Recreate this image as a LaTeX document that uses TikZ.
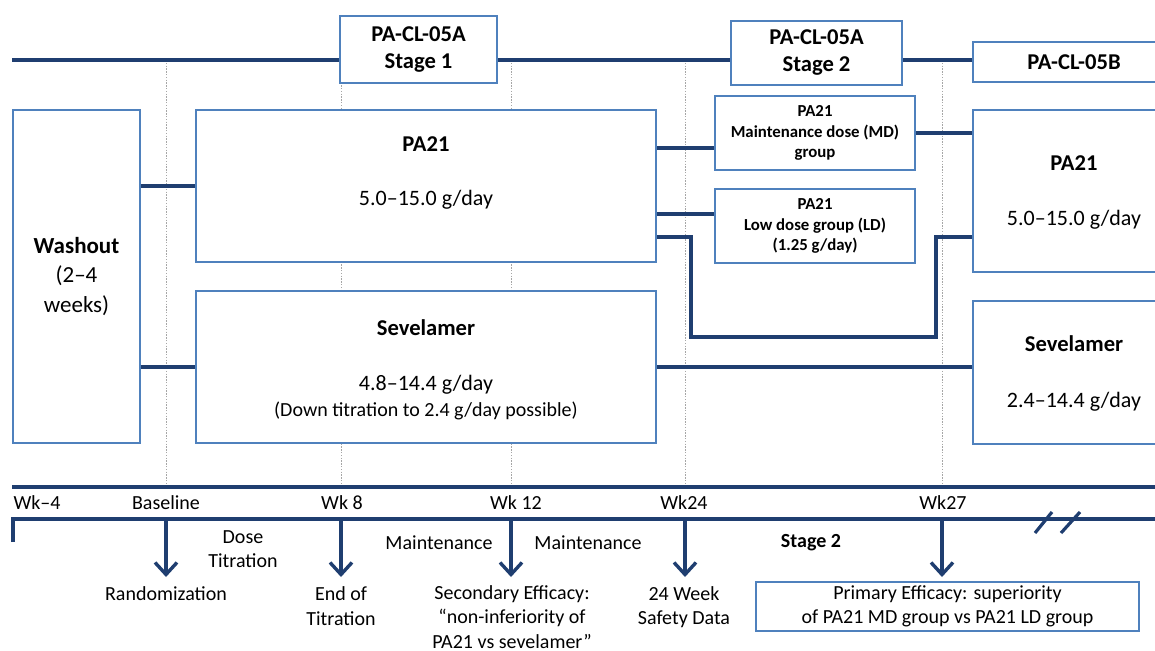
\documentclass[tikz,border=0pt]{standalone}
\usepackage{fontspec}
\setmainfont{Carlito}
\usetikzlibrary{arrows.meta,positioning,calc,fit}
\definecolor{boxblue}{RGB}{79,129,189}
\definecolor{navy}{RGB}{31,62,112}

\begin{document}
\begin{tikzpicture}[x=0.5pt,y=-0.5pt,
    box/.style={draw=boxblue, line width=1.4pt, fill=white, inner sep=0pt},
    link/.style={navy, line width=2pt},
    wkline/.style={gray!70, line width=0.5pt, dash pattern=on 0.7pt off 0.7pt},
    hdr/.style={font=\bfseries\fontsize{11.3}{13.5}\selectfont, align=center},
    dosetxt/.style={font=\fontsize{11}{13}\selectfont},
    grptxt/.style={font=\bfseries\fontsize{8.4}{10.3}\selectfont, align=center},
    lbl/.style={font=\fontsize{10}{12.3}\selectfont, align=center},
    down/.style={navy, line width=1.7pt, -{Straight Barb[length=6pt,width=11pt]}}]
    \useasboundingbox (0,0) rectangle (1155,651);
    \clip (0,0) rectangle (1155,651);

    % Week lines behind the boxes
    \foreach \x in {166,341,511,685,942}
        \draw[wkline] (\x,60) -- (\x,487);

    % Study stages
    \draw[link] (12,60) -- (1155,60);
    \node[box, fit={(340,16) (497,83)}] (stA) {};
    \node[hdr] (stAT) at (stA.center) {PA-CL-05A\\Stage 1};
    \node[box, fit={(731,21) (902,85)}] (stB) {};
    \node[hdr] (stBT) at (stB.center) {PA-CL-05A\\Stage 2};
    \node[box, fit={(973,42) (1175,82)}] (stC) {};
    \node[hdr] (stCT) at (stC.center) {PA-CL-05B};

    % Washout and randomised arms
    \node[box, fit={(13,110) (140,443)}] (wash) {};
    \node[font={\fontsize{11.5}{14.7}\selectfont}, align=center] (washT) at (wash.center) {\textbf{Washout}\\(2–4\\weeks)};
    \node[box, fit={(196,110) (656,262)}] (pa) {};
    \node[hdr] (paT) at (426,144) {PA21};
    \node[dosetxt] (paD) at (426,200) {5.0–15.0 g/day};
    \node[box, fit={(196,291) (656,443)}] (sev) {};
    \node[hdr] (sevT) at (426,328) {Sevelamer};
    \node[dosetxt] (sevD) at (426,385) {4.8–14.4 g/day};
    \node[lbl] (sevN) at (426,411) {(Down titration to 2.4 g/day possible)};

    % Stage 2 groups
    \node[box, fit={(715,96) (915,170)}] (md) {};
    \node[grptxt] (mdT) at (md.center) {PA21\\Maintenance dose (MD)\\group};
    \node[box, fit={(715,189) (915,263)}] (ld) {};
    \node[grptxt] (ldT) at (ld.center) {PA21\\Low dose group (LD)\\(1.25 g/day)};

    % Extension study
    \node[box, fit={(973,110) (1175,272)}] (rpa) {};
    \node[hdr] (rpaT) at (1074,163) {PA21};
    \node[dosetxt] (rpaD) at (1074,220) {5.0–15.0 g/day};
    \node[box, fit={(973,301) (1175,444)}] (rsev) {};
    \node[hdr] (rsevT) at (1074,344) {Sevelamer};
    \node[dosetxt] (rsevD) at (1074,402) {2.4–14.4 g/day};

    % Connectors
    \draw[link] (wash.east |- pa.west) -- (pa.west);
    \draw[link] (wash.east |- sev.west) -- (sev.west);
    \coordinate (mdIn) at ($(md.west)+(0,15)$);
    \coordinate (ldIn) at ($(ld.west)+(0,-12)$);
    \coordinate (paOut) at ($(pa.east)+(0,51)$);
    \draw[link] (pa.east |- mdIn) -- (mdIn);
    \draw[link] (pa.east |- ldIn) -- (ldIn);
    \draw[link] (paOut) -| (691,337) -| (936,237) -- (rpa.west |- paOut);
    \draw[link] (md.east) -- (md.east -| rpa.west);
    \draw[link] (sev.east) -- (sev.east -| rsev.west);

    % Time line
    \draw[link, line width=2.2pt] (12,487) -- (1155,487);
    \draw[link, line width=2.2pt] (13,542) -- (13,519) -- (1155,519);
    \draw[navy, line width=1.6pt] (1035,533) -- (1052,512) (1061,533) -- (1080,512);
    \node[lbl] (wk0) at (37,503) {Wk–4};
    \node[lbl] (wkB) at (166,503) {Baseline};
    \node[lbl] (wk8) at (342,503) {Wk 8};
    \node[lbl] (wk12) at (516,503) {Wk 12};
    \node[lbl] (wk24) at (684,503) {Wk24};
    \node[lbl] (wk27) at (943,503) {Wk27};
    \foreach \x/\n in {166/a,341/b,511/c,685/d,942/e} {
        \coordinate (t\n) at (\x,519);
        \coordinate (h\n) at (\x,577);
        \draw[down] (t\n) -- (h\n);
    }

    % Milestones
    \node[lbl] (dose) at (243,549) {Dose\\Titration};
    \node[lbl] (rand) at (166,594) {Randomization};
    \node[lbl] (eot) at (341,606) {End of\\Titration};
    \node[lbl] (mA) at (439,543) {Maintenance};
    \node[lbl] (mB) at (588,543) {Maintenance};
    \node[lbl] (sec) at (512,617) {Secondary Efficacy:\\“non-inferiority of\\PA21 vs sevelamer”};
    \node[lbl] (safe) at (684,607) {24 Week\\Safety Data};
    \node[lbl, font=\bfseries\fontsize{10}{12.3}\selectfont] (stg2) at (811,543) {Stage 2};
    \node[box, line width=1pt, fit={(756,582) (1139,631)}] (prim) {};
    \node[lbl] (primT) at (prim.center) {Primary Efficacy: superiority\\of PA21 MD group vs PA21 LD group};
\end{tikzpicture}
\end{document}
